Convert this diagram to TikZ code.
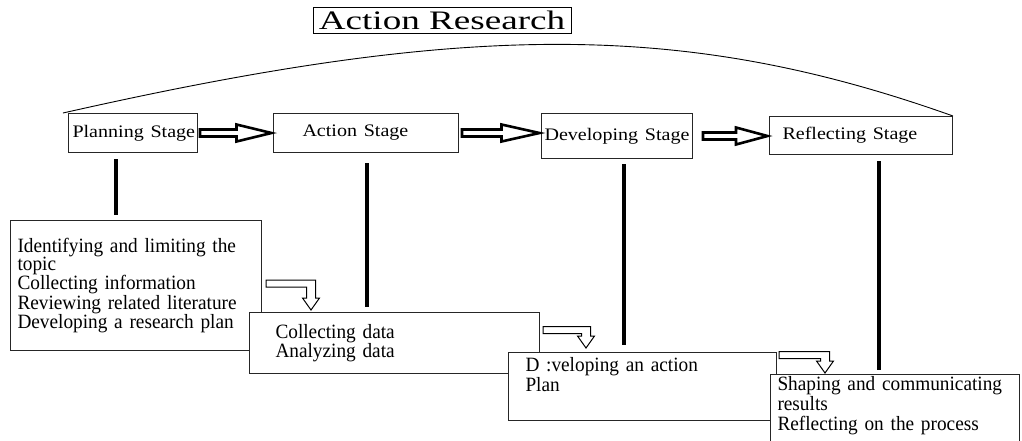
\documentclass[tikz,border=0pt]{standalone}
\usepackage{graphicx}
\usepackage{fontspec}
\setmainfont{Liberation Serif}
\newfontfamily\detailfont[FakeStretch=0.95]{Liberation Serif}
\newcommand\dfont[2]{\detailfont\fontsize{#1}{#2}\selectfont\hyphenpenalty=10000\relax}
\usetikzlibrary{calc}
\newcommand\stx[1]{\scalebox{1.14}[1]{#1}}
\newcommand\bigarrow[3]{%
  \path[bigarr] let \p1=([xshift=#3]#1), \p2=(#2) in
    (\x1,\y1+3.5pt) -- ({(\x1+\x2)/2},\y1+3.5pt) -- ({(\x1+\x2)/2},\y1+8.5pt)
    -- (\x2-1.5pt,\y1) -- ({(\x1+\x2)/2},\y1-8.5pt) -- ({(\x1+\x2)/2},\y1-3.5pt)
    -- (\x1,\y1-3.5pt) -- cycle;}
\newcommand\bentarrow[2]{%
  \path[smallarr] let \p1=(#1), \p2=(#2) in
    (\x1,\y1+3.5pt) -- (\x2+4.5pt,\y1+3.5pt) -- (\x2+4.5pt,\y2+12pt)
    -- (\x2+8.5pt,\y2+12pt) -- (\x2,\y2) -- (\x2-8.5pt,\y2+12pt)
    -- (\x2-4.5pt,\y2+12pt) -- (\x2-4.5pt,\y1-3.5pt) -- (\x1,\y1-3.5pt) -- cycle;}
\begin{document}
\begin{tikzpicture}[x=1pt,y=-1pt,
  stagebox/.style={draw=black!85, line width=1pt, anchor=north west, inner ysep=0pt,
    font=\fontsize{17.6}{20}\selectfont},
  detailbox/.style={draw=black!85, fill=white, line width=1pt, anchor=north west,
    inner ysep=0pt, align=left},
  bigarr/.style={draw, line width=2.6pt, fill=white, line join=miter},
  smallarr/.style={draw, line width=1pt, fill=white},
  vline/.style={line width=4pt}]
\useasboundingbox[fill=white] (0,0) rectangle (1022,440);

% title
\node[draw, line width=0.9pt, minimum width=258pt, minimum height=26pt, inner sep=0pt,
  font=\fontsize{26.7}{30}\selectfont] (title) at (442,20) {\scalebox{1.39}[1]{Action Research}};

% stage boxes
\node[stagebox, minimum width=129pt, minimum height=39pt, inner xsep=4pt, text width=121pt, align=center]
  (plan) at (68,113) {\stx{Planning Stage}};
\node[stagebox, minimum width=185pt, minimum height=39pt, inner xsep=29pt, text width=127pt, align=left]
  (act) at (273,113) {\stx{Action Stage}};
\node[stagebox, minimum width=151pt, minimum height=45pt, inner xsep=2pt, text width=147pt, align=center]
  (dev) at (541,113) {\stx{Developing Stage}};
\node[stagebox, minimum width=183pt, minimum height=38pt, inner xsep=13pt, text width=157pt, align=left]
  (refl) at (769,116) {\stx{Reflecting Stage}};

% arc over the stages
\draw[line width=0.9pt] ([xshift=-5pt]plan.north west) .. controls (470,21) and (686,21) .. (refl.north east);

% detail boxes
\node[detailbox, minimum width=251pt, minimum height=130pt, inner xsep=7pt, text width=237pt,
  font=\dfont{20.3}{18.3}] (pd) at (10,220)
  {Identifying and limiting the\\topic\\Collecting information\\Reviewing related literature\\Developing a research plan};
\node[detailbox, minimum width=290pt, minimum height=61pt, inner xsep=26pt, text width=238pt,
  font=\dfont{20.3}{19}] (ad) at (249,312)
  {Collecting data\\Analyzing data};
\node[detailbox, minimum width=268pt, minimum height=68pt, inner xsep=17pt, text width=234pt,
  font=\dfont{20.3}{18}] (dd) at (508,352)
  {D :veloping an action\\Plan\\[6pt]\mbox{}};
\node[detailbox, minimum width=249pt, minimum height=82pt, inner xsep=7pt, text width=235pt,
  font=\dfont{20.3}{20}] (rd) at (770,374)
  {Shaping and communicating\\results\\Reflecting on the process\\[4pt]\mbox{}};

% thick vertical connectors
\draw[vline] ($(plan.south west)+(48,6)$) -- ($(pd.north west)+(106,-5)$);
\draw[vline] ($(act.south west)+(94,10)$) -- ($(ad.north west)+(118,-5)$);
\draw[vline] ($(dev.south west)+(83,5)$) -- ($(dd.north west)+(116,-7)$);
\draw[vline] ($(refl.south west)+(110,6)$) -- ($(rd.north west)+(109,-4)$);

% hollow block arrows between stages
\bigarrow{plan.east}{act.west}{2pt}
\bigarrow{act.east}{dev.west}{3pt}
\bigarrow{dev.east}{refl.west}{10pt}

% bent hollow arrows between detail boxes
\bentarrow{$(pd.north east)+(4,63.5)$}{$(ad.north west)+(62,-2)$}
\bentarrow{$(ad.north east)+(3,18)$}{$(dd.north west)+(78,-4)$}
\bentarrow{$(dd.north east)+(2,3)$}{$(rd.north west)+(55,-1)$}
\end{tikzpicture}
\end{document}
